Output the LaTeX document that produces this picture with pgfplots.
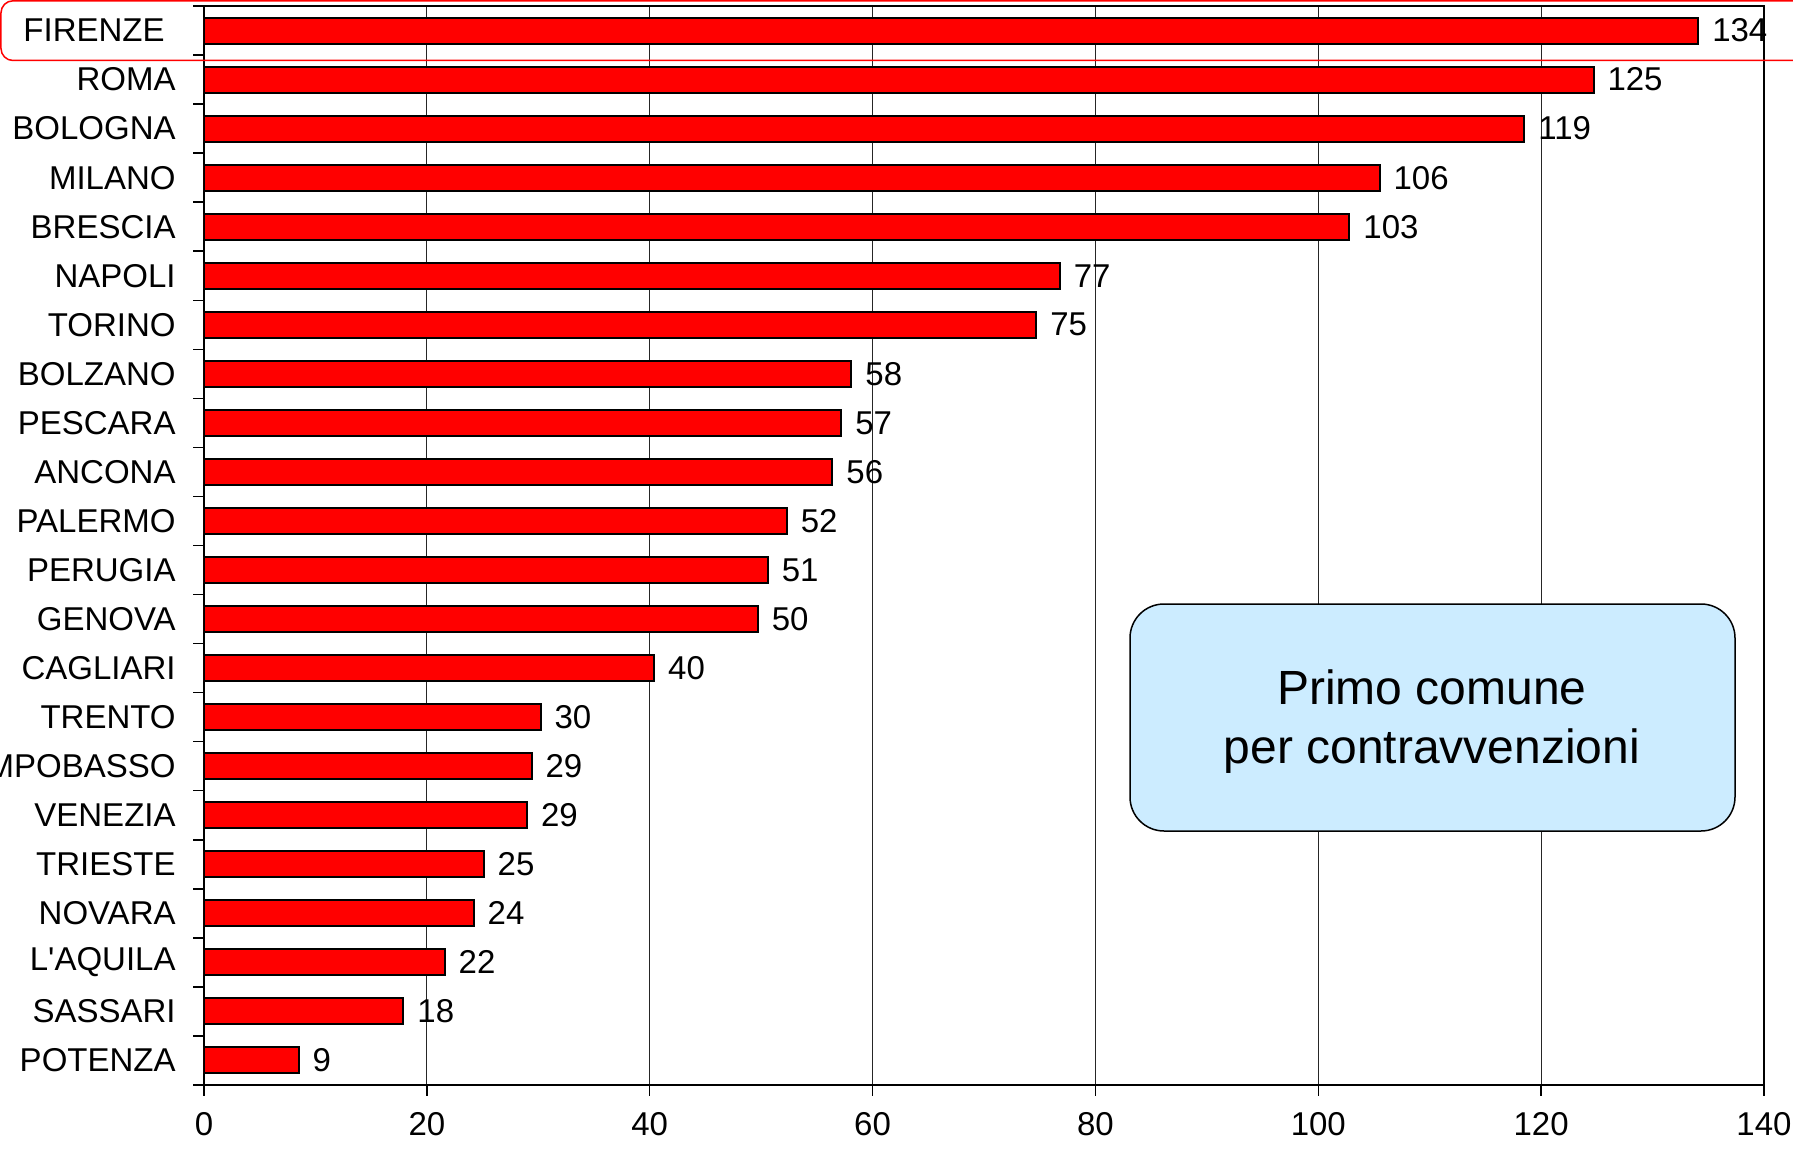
\documentclass[border=0pt]{standalone}
\usepackage{pgfplots}
\pgfplotsset{compat=1.18}
\usepackage{pgfplotstable}
\usepackage{fontspec}
\setmainfont{Liberation Sans}
\definecolor{barred}{RGB}{255,0,0}
\definecolor{boxblue}{RGB}{204,236,255}
\newcommand{\lbl}{\fontsize{16.5}{19.8}\selectfont}

% idx: 0 = top row
\pgfplotstableread{
idx val lab
0 134.1 134
1 124.7 125
2 118.5 119
3 105.5 106
4 102.8 103
5 76.8 77
6 74.7 75
7 58.1 58
8 57.2 57
9 56.4 56
10 52.3 52
11 50.6 51
12 49.7 50
13 40.4 40
14 30.2 30
15 29.4 29
16 29.0 29
17 25.1 25
18 24.2 24
19 21.6 22
20 17.9 18
21 8.5 9
}\datatab

\begin{document}
\begin{tikzpicture}
\begin{axis}[
  scale only axis, width=780pt, height=539.5pt,
  xbar, bar width=13pt,
  xmin=0, xmax=140, ymin=-0.5, ymax=21.5, y dir=reverse,
  axis line style={black, line width=0.75pt},
  tick align=outside, tick pos=left, major tick length=5.25pt,
  tick style={black, line width=0.75pt},
  xtick={0,20,...,140},
  xmajorgrids, major grid style={black!85, line width=0.5pt},
  ytick={-0.5,0.5,...,21.5}, yticklabel=\empty,
  extra y ticks={0,...,21},
  extra y tick labels={FIRENZE\hspace*{5.5pt},ROMA,BOLOGNA,MILANO,BRESCIA,NAPOLI,TORINO,BOLZANO,PESCARA,ANCONA,PALERMO,PERUGIA,GENOVA,CAGLIARI,TRENTO,CAMPOBASSO,VENEZIA,TRIESTE,NOVARA,L\textquotesingle AQUILA,SASSARI,POTENZA},
  extra y tick style={major tick length=0pt,
    yticklabel style={anchor=east, inner sep=0pt, xshift=-14pt}},
  /pgf/number format/assume math mode=true,
  tick label style={font=\lbl},
  xticklabel style={anchor=north, inner sep=0pt, yshift=-8.5pt},
  nodes near coords={\pgfplotspointmeta},
  point meta=explicit symbolic,
  nodes near coords style={font=\lbl, anchor=west, inner sep=0pt, xshift=6.5pt},
]
\addplot[fill=barred, draw=black, line width=1pt]
  table[x=val, y=idx, meta=lab] {\datatab};
\end{axis}
\coordinate (O) at (current axis.north west);
\draw[red, line width=0.75pt, rounded corners=6pt]
  ([shift={(-101.5pt,2.6pt)}]O) rectangle ([shift={(815pt,-27.25pt)}]O);
\draw[fill=boxblue, draw=black, line width=0.75pt, rounded corners=17pt]
  ([shift={(463pt,-299pt)}]O) rectangle ([shift={(765.5pt,-412.5pt)}]O);
\node[align=center, font=\fontsize{24}{29.5}\selectfont, inner sep=0pt]
  at ([shift={(614pt,-357.75pt)}]O) {Primo comune\\per contravvenzioni};
\pgfresetboundingbox
\path[use as bounding box]
  ([shift={(-102pt,3pt)}]O) rectangle ([shift={(794.5pt,-571pt)}]O);
\end{tikzpicture}
\end{document}
